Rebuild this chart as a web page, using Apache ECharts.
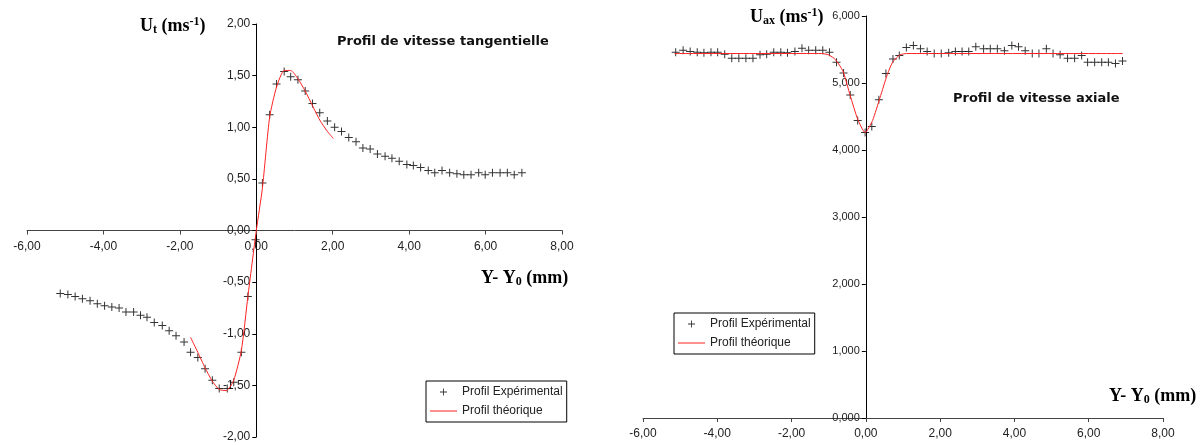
<!DOCTYPE html>
<html lang="fr">
<head>
	<meta charset="UTF-8">
	<title>Profils de vitesse</title>
	<style>
		html,body{margin:0;padding:0;background:#fff;}
		#main{width:1203px;height:445px;}
	</style>
</head>
<body>
	<div id="main"></div>
<script src="https://cdn.jsdelivr.net/npm/echarts@6/dist/echarts.min.js"></script>
<script>
// profil tangentiel - points mesures
var tanExpX = [-5.13,-4.93,-4.74,-4.55,-4.35,-4.16,-3.97,-3.78,-3.59,-3.41,-3.21,-3.03,-2.86,-2.67,-2.46,-2.28,-2.10,-1.89,-1.72,-1.53,-1.34,-1.15,-0.97,-0.76,-0.59,-0.39,-0.22,-0.02,
	0.16,0.35,0.53,0.73,0.90,1.09,1.28,1.47,1.66,1.86,2.05,2.23,2.42,2.61,2.79,2.98,3.17,3.37,3.55,3.74,3.94,4.11,4.30,4.50,4.67,4.86,5.06,5.25,5.43,5.62,5.82,5.99,6.18,6.38,6.57,6.75,6.95];
var tanExpY = [-0.61,-0.62,-0.64,-0.66,-0.68,-0.71,-0.73,-0.74,-0.75,-0.79,-0.79,-0.82,-0.84,-0.89,-0.92,-0.97,-1.02,-1.08,-1.18,-1.23,-1.34,-1.45,-1.53,-1.53,-1.47,-1.18,-0.64,-0.09,
	0.46,1.12,1.42,1.54,1.49,1.46,1.35,1.23,1.14,1.06,1.00,0.96,0.90,0.86,0.80,0.79,0.74,0.72,0.70,0.67,0.64,0.63,0.61,0.58,0.56,0.58,0.56,0.55,0.54,0.54,0.56,0.54,0.56,0.56,0.56,0.54,0.56];
// profil tangentiel - theorique
var tanThX = [-1.72,-1.53,-1.34,-1.15,-0.97,-0.78,-0.59,-0.39,-0.22,0,0.16,0.35,0.53,0.73,0.90,1.09,1.28,1.47,1.66,1.86,2.02];
var tanThY = [-1.035,-1.18,-1.33,-1.46,-1.54,-1.55,-1.45,-1.16,-0.64,0,0.41,1.10,1.39,1.55,1.55,1.47,1.35,1.21,1.07,0.96,0.89];

// profil axial - points mesures
var axExpX = [-5.12,-4.92,-4.73,-4.54,-4.36,-4.17,-3.99,-3.80,-3.61,-3.42,-3.23,-3.04,-2.85,-2.67,-2.48,-2.29,-2.11,-1.91,-1.72,-1.54,-1.35,-1.16,-0.98,-0.79,-0.60,-0.42,-0.22,-0.02,
	0.16,0.35,0.54,0.73,0.90,1.09,1.28,1.47,1.65,1.84,2.03,2.23,2.41,2.59,2.77,2.96,3.17,3.35,3.54,3.73,3.93,4.11,4.29,4.48,4.66,4.86,5.04,5.23,5.43,5.62,5.81,5.97,6.16,6.35,6.53,6.72,6.91];
var axExpY = [5.46,5.49,5.47,5.46,5.45,5.46,5.46,5.43,5.37,5.37,5.37,5.37,5.42,5.43,5.46,5.46,5.45,5.47,5.52,5.49,5.49,5.49,5.46,5.31,5.15,4.82,4.44,4.26,
	4.35,4.75,5.14,5.36,5.41,5.53,5.56,5.51,5.47,5.44,5.44,5.45,5.47,5.47,5.47,5.54,5.51,5.51,5.51,5.48,5.56,5.54,5.48,5.44,5.44,5.51,5.44,5.42,5.37,5.37,5.41,5.31,5.31,5.31,5.31,5.29,5.33];
// profil axial - theorique
var axThX = [-5.15,-1.20,-1.00,-0.82,-0.62,-0.42,-0.22,-0.02,0.18,0.38,0.58,0.73,0.92,1.10,6.92];
var axThY = [5.44,5.44,5.42,5.35,5.18,4.81,4.46,4.26,4.44,4.78,5.13,5.32,5.42,5.44,5.44];

var nameExp = 'Profil Expérimental';
var nameTh = 'Profil théorique';

var plus = 'path://M3.5,0h1v3.5h3.5v1h-3.5v3.5h-1v-3.5h-3.5v-1h3.5z';

function pairs(xs, ys){
	var out = [];
	for (var i = 0; i < xs.length && i < ys.length; i++) out.push([xs[i], ys[i]]);
	return out;
}
function fr(d){
	return function(v){ return v.toFixed(d).replace('.', ','); };
}

var sans = 'Liberation Sans, Arial, sans-serif';
var serif = 'Liberation Serif, Times New Roman, serif';

// grilles (px) : les axes se croisent en zero
var g1 = {left:27, top:24, width:535, height:413};
var g2 = {left:643, top:16, width:520, height:402};

function xAx(grid, off){
	return {
		type:'value', gridIndex:grid, min:-6, max:8, interval:2,
		offset:off,
		splitLine:{show:false},
		axisLine:{onZero:false, lineStyle:{color:'#444', width:1}},
		axisTick:{length:4, lineStyle:{color:'#444'}},
		axisLabel:{formatter:fr(2), color:'#222', fontFamily:sans, fontSize:12, margin:10}
	};
}
function legendAt(left, top){
	return {
		left:left, top:top, orient:'vertical', itemGap:7, itemWidth:27, itemHeight:7,
		padding:[5,4,5,4], borderColor:'#000', borderWidth:1, backgroundColor:'#fff',
		textStyle:{fontFamily:sans, fontSize:12, color:'#222'},
		selectedMode:false,
		data:[{name:nameExp, icon:plus, itemStyle:{color:'#000'}}, {name:nameTh, icon:'path://M0,0h27v1h-27z'}]
	};
}

var chart = echarts.init(document.getElementById('main'));
var richAxis = {
	b:{fontFamily:serif, fontWeight:'bold', fontSize:18, color:'#111', lineHeight:24},
	sub:{fontFamily:serif, fontWeight:'bold', fontSize:12, color:'#111', padding:[8,0,0,0], lineHeight:24},
	sup:{fontFamily:serif, fontWeight:'bold', fontSize:12, color:'#111', padding:[0,0,8,0], lineHeight:24}
};
var titleFont = 'bold 13px DejaVu Sans, Verdana, sans-serif';

chart.setOption({
	animation:false,
	grid:[
		{left:g1.left, top:g1.top, width:g1.width, height:g1.height, outerBoundsMode:'none'},
		{left:g2.left, top:g2.top, width:g2.width, height:g2.height, outerBoundsMode:'none'}
	],
	xAxis:[
		xAx(0, -g1.height * 2 / 4),
		xAx(1, 0)
	],
	yAxis:[
		{
			type:'value', gridIndex:0, min:-2, max:2, interval:0.5,
			offset:-g1.width * 6 / 14,
			splitLine:{show:false},
			axisLine:{onZero:false, lineStyle:{color:'#000'}},
			axisTick:{length:4, lineStyle:{color:'#000'}},
			axisLabel:{formatter:fr(2), color:'#222', fontFamily:sans, fontSize:12, margin:6}
		},
		{
			type:'value', gridIndex:1, min:0, max:6, interval:1,
			offset:-g2.width * 6 / 14,
			splitLine:{show:false},
			axisLine:{onZero:false, lineStyle:{color:'#000'}},
			axisTick:{length:4, lineStyle:{color:'#000'}},
			axisLabel:{formatter:fr(3), color:'#222', fontFamily:sans, fontSize:11, margin:6}
		}
	],
	legend:[legendAt(426, 381), legendAt(674, 313)],
	graphic:[
		{type:'text', left:140, top:16, style:{text:'{b|U}{sub|t}{b| (ms}{sup|-1}{b|)}', rich:richAxis}},
		{type:'text', left:481, top:268, style:{text:'{b|Y- Y}{sub|0}{b| (mm)}', rich:richAxis}},
		{type:'text', left:750, top:7, style:{text:'{b|U}{sub|ax}{b| (ms}{sup|-1}{b|)}', rich:richAxis}},
		{type:'text', left:1109, top:386, style:{text:'{b|Y- Y}{sub|0}{b| (mm)}', rich:richAxis}},
		{type:'text', left:337, top:35, style:{text:'Profil de vitesse tangentielle', font:titleFont, fill:'#111'}},
		{type:'text', left:953, top:92, style:{text:'Profil de vitesse axiale', font:titleFont, fill:'#111'}}
	],
	series:[
		{
			name:nameExp, type:'scatter', xAxisIndex:0, yAxisIndex:0,
			symbol:plus, symbolSize:8, itemStyle:{color:'#000'},
			data:pairs(tanExpX, tanExpY)
		},
		{
			name:nameTh, type:'line', xAxisIndex:0, yAxisIndex:0,
			symbol:'none', smooth:0.2, lineStyle:{color:'#ff2020', width:1}, itemStyle:{color:'#ff2020'},
			data:pairs(tanThX, tanThY)
		},
		{
			name:nameExp, type:'scatter', xAxisIndex:1, yAxisIndex:1,
			symbol:plus, symbolSize:8, itemStyle:{color:'#000'},
			data:pairs(axExpX, axExpY)
		},
		{
			name:nameTh, type:'line', xAxisIndex:1, yAxisIndex:1,
			symbol:'none', smooth:0.2, lineStyle:{color:'#ff2020', width:1}, itemStyle:{color:'#ff2020'},
			data:pairs(axThX, axThY)
		}
	]
});
</script>
</body>
</html>
